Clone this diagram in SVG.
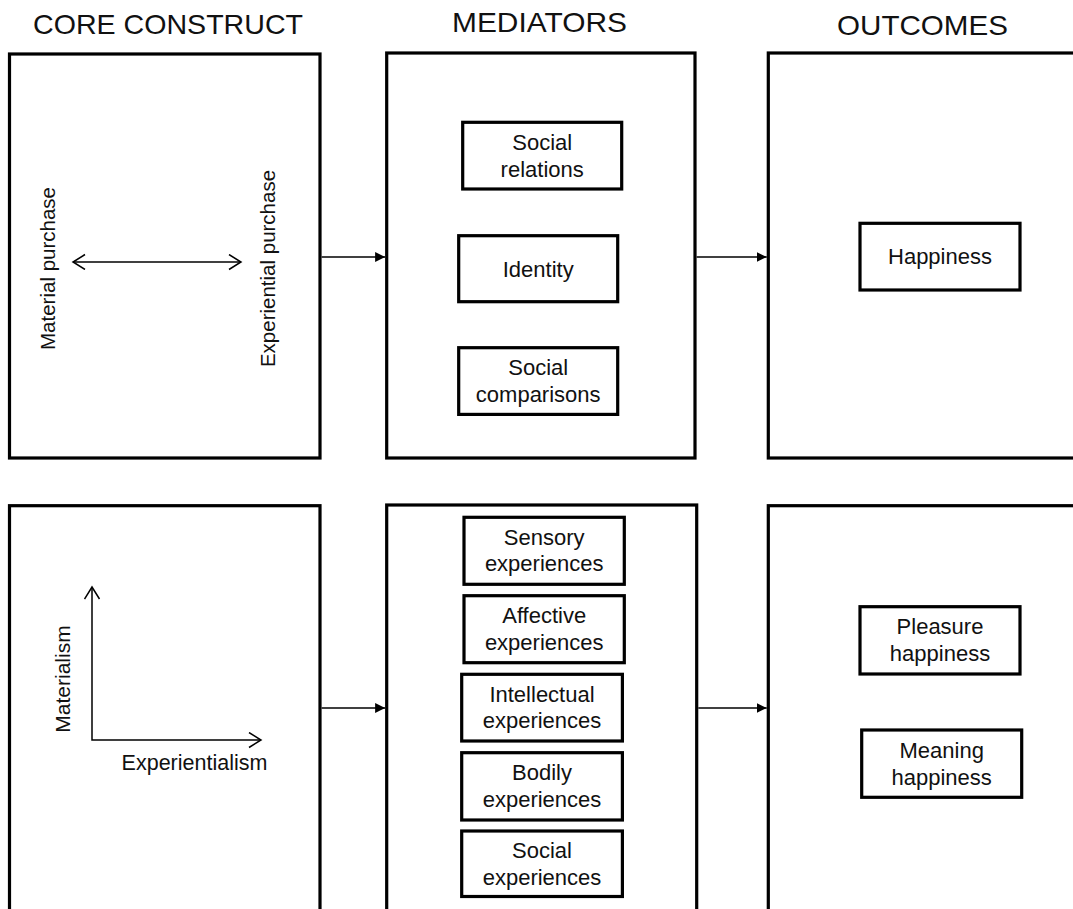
<svg xmlns="http://www.w3.org/2000/svg" width="1073" height="909" viewBox="0 0 1073 909">
<style>
  .frame { fill: none; stroke: #000; stroke-width: 3.2; }
  .box { fill: #fff; stroke: #000; stroke-width: 3.2; }
  .title { font-family: "Liberation Sans", Arial, sans-serif; font-size: 28.5px; fill: #111; text-anchor: middle; }
  .lbl { font-family: "Liberation Sans", Arial, sans-serif; font-size: 22px; fill: #111; text-anchor: middle; }
  .rot { font-family: "Liberation Sans", Arial, sans-serif; font-size: 20.5px; fill: #111; text-anchor: middle; }
  .conn { fill: none; stroke: #000; stroke-width: 1.5; }
</style>
<defs>
  <marker id="solid" markerUnits="userSpaceOnUse" markerWidth="11" markerHeight="11" refX="10" refY="5" orient="auto">
    <path d="M0,0 L10,5 L0,10 z" fill="#000"/>
  </marker>
  <marker id="open" markerUnits="userSpaceOnUse" markerWidth="16" markerHeight="18" refX="13" refY="8" orient="auto-start-reverse">
    <path d="M1,0.5 L13,8 L1,15.5" fill="none" stroke="#000" stroke-width="1.5"/>
  </marker>
</defs>
<rect width="1073" height="909" fill="#fff"/>

<g id="titles">
  <text class="title" x="168" y="34" textLength="270" lengthAdjust="spacingAndGlyphs">CORE CONSTRUCT</text>
  <text class="title" x="539.5" y="32" textLength="175" lengthAdjust="spacingAndGlyphs">MEDIATORS</text>
  <text class="title" x="922.5" y="35" textLength="171" lengthAdjust="spacingAndGlyphs">OUTCOMES</text>
</g>

<g id="core-top">
  <rect class="frame" x="9.5" y="54" width="310.5" height="404"/>
  <text class="rot" transform="translate(55,268.5) rotate(-90)">Material purchase</text>
  <text class="rot" transform="translate(274.5,268.5) rotate(-90)">Experiential purchase</text>
  <line class="conn" x1="73" y1="262" x2="241" y2="262" marker-start="url(#open)" marker-end="url(#open)"/>
</g>

<g id="mediators-top">
  <rect class="frame" x="386.7" y="53" width="308.3" height="405"/>
</g>
<g id="social-relations">
  <rect class="box" x="462.7" y="122.3" width="159" height="66.7"/>
  <text class="lbl" x="542.2" y="150">Social</text>
  <text class="lbl" x="542.2" y="176.5">relations</text>
</g>
<g id="identity">
  <rect class="box" x="458.7" y="235.7" width="159" height="66"/>
  <text class="lbl" x="538.2" y="276.7">Identity</text>
</g>
<g id="social-comparisons">
  <rect class="box" x="458.7" y="347.7" width="159" height="66.7"/>
  <text class="lbl" x="538.2" y="375.2">Social</text>
  <text class="lbl" x="538.2" y="401.7">comparisons</text>
</g>

<g id="outcomes-top">
  <rect class="frame" x="768.3" y="53" width="320" height="405"/>
</g>
<g id="happiness">
  <rect class="box" x="860" y="223.3" width="160" height="66.7"/>
  <text class="lbl" x="940" y="264">Happiness</text>
</g>

<g id="core-bottom">
  <rect class="frame" x="9.5" y="505.7" width="310.5" height="420"/>
  <text class="rot" style="font-size:21px" transform="translate(69.5,679) rotate(-90)">Materialism</text>
  <text class="lbl" style="font-size:21.5px" x="194.5" y="770">Experientialism</text>
  <polyline class="conn" points="92,587 92,740 261,740" marker-start="url(#open)" marker-end="url(#open)"/>
</g>

<g id="mediators-bottom">
  <rect class="frame" x="386.7" y="505" width="310" height="420"/>
</g>
<g id="sensory">
  <rect class="box" x="464" y="517.3" width="160.3" height="67"/>
  <text class="lbl" x="544.2" y="545">Sensory</text>
  <text class="lbl" x="544.2" y="571">experiences</text>
</g>
<g id="affective">
  <rect class="box" x="464" y="595.7" width="160.3" height="67"/>
  <text class="lbl" x="544.2" y="623.3">Affective</text>
  <text class="lbl" x="544.2" y="650">experiences</text>
</g>
<g id="intellectual">
  <rect class="box" x="461.7" y="674.3" width="160.7" height="66.7"/>
  <text class="lbl" x="542" y="701.7">Intellectual</text>
  <text class="lbl" x="542" y="728.3">experiences</text>
</g>
<g id="bodily">
  <rect class="box" x="461.7" y="752.7" width="160.7" height="67.3"/>
  <text class="lbl" x="542" y="780">Bodily</text>
  <text class="lbl" x="542" y="806.7">experiences</text>
</g>
<g id="social-experiences">
  <rect class="box" x="461.7" y="831" width="160.7" height="65.5"/>
  <text class="lbl" x="542" y="858.3">Social</text>
  <text class="lbl" x="542" y="885">experiences</text>
</g>

<g id="outcomes-bottom">
  <rect class="frame" x="768.3" y="505.7" width="320" height="420"/>
</g>
<g id="pleasure-happiness">
  <rect class="box" x="860" y="606.7" width="160" height="67.3"/>
  <text class="lbl" x="940" y="634">Pleasure</text>
  <text class="lbl" x="940" y="660.7">happiness</text>
</g>
<g id="meaning-happiness">
  <rect class="box" x="861.7" y="730" width="160" height="67.3"/>
  <text class="lbl" x="941.7" y="758.3">Meaning</text>
  <text class="lbl" x="941.7" y="784.5">happiness</text>
</g>

<g id="connectors">
  <line class="conn" x1="321.6" y1="257" x2="385.1" y2="257" marker-end="url(#solid)"/>
  <line class="conn" x1="696.6" y1="257" x2="766.7" y2="257" marker-end="url(#solid)"/>
  <line class="conn" x1="321.6" y1="708" x2="385.1" y2="708" marker-end="url(#solid)"/>
  <line class="conn" x1="698.3" y1="708" x2="766.7" y2="708" marker-end="url(#solid)"/>
</g>
</svg>
